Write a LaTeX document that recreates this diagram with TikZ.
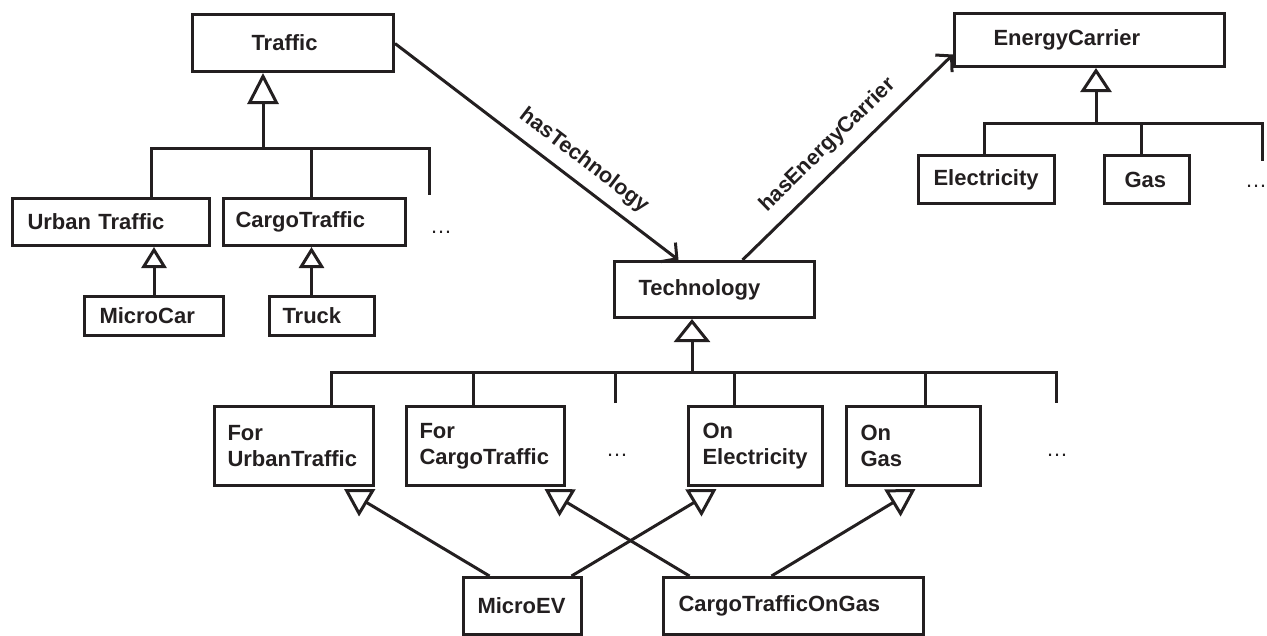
\documentclass[tikz,border=0pt]{standalone}
\usepackage{fontspec}
\setmainfont{Liberation Sans}
\usetikzlibrary{arrows.meta}
\definecolor{ink}{RGB}{35,31,32}
\hyphenpenalty=10000

\begin{document}
\begin{tikzpicture}[x=1pt,y=-1pt,
  line width=3pt, draw=ink,
  cls/.style n args={3}{draw=ink, line width=3pt, anchor=north west,
    inner ysep=0pt, inner xsep=#2, text width=#1, minimum height=#3,
    align=left, text=ink, font=\fontsize{22}{26}\selectfont\bfseries},
  more/.style={anchor=base, inner sep=0pt, text=ink,
    font=\fontsize{22}{26}\selectfont},
  link/.style={draw=ink, line width=3pt},
  isa/.style 2 args={link, -{Triangle[open, length=#1, width=#2]}},
  assoc/.style={link, -{Straight Barb[length=11pt, width=24pt]}},
  role/.style={sloped, above=#1, inner sep=0pt, text=ink,
    font=\fontsize{21.5}{26}\selectfont\bfseries}
]
\useasboundingbox (0,0) rectangle (1267,635);

% ---- traffic hierarchy ----
\node[cls={83pt}{59pt}{57pt}]  (traffic)  at (191,13)  {Traffic};
\node[cls={167pt}{15pt}{47pt}] (urban)    at (11,197)  {Urban Traffic};
\node[cls={158pt}{12pt}{47pt}] (cargo)    at (222,197) {CargoTraffic};
\node[cls={109pt}{15pt}{39pt}] (microcar) at (83,295)  {MicroCar};
\node[cls={79pt}{13pt}{39pt}]  (truck)    at (268,295) {Truck};
\node[more] (moretraffic) at (441,233) {…};

% ---- energy carriers ----
\node[cls={192pt}{39pt}{53pt}] (energy) at (953,12)   {EnergyCarrier};
\node[cls={106pt}{15pt}{48pt}] (elec)   at (917,154)  {Electricity};
\node[cls={45pt}{20pt}{48pt}]  (gas)    at (1103,154) {Gas};
\node[more] (moreenergy) at (1256,187) {…};

% ---- technologies ----
\node[cls={152pt}{24pt}{56pt}] (tech)     at (613,260) {Technology};
\node[cls={133pt}{13pt}{79pt}] (forurban) at (213,405) {For\\UrbanTraffic};
\node[cls={132pt}{13pt}{79pt}] (forcargo) at (405,405) {For\\CargoTraffic};
\node[cls={106pt}{14pt}{79pt}] (onelec)   at (687,405) {On\\Electricity};
\node[cls={106pt}{14pt}{79pt}] (ongas)    at (845,405) {On\\Gas};
\node[more] (moretechA) at (617,456) {…};
\node[more] (moretechB) at (1057,456) {…};
\node[cls={90pt}{14pt}{57pt}]  (microev)  at (462,576) {MicroEV};
\node[cls={230pt}{15pt}{57pt}] (ctog)     at (662,576) {CargoTrafficOnGas};

% ---- junction points of the subclass trees ----
\coordinate (tbus)  at (263,148);
\coordinate (tfree) at (429,195);
\coordinate (ebus)  at (1096,123);
\coordinate (efree) at (1262,161);
\coordinate (gbus)  at (692,372);
\coordinate (gfreeA) at (615,403);
\coordinate (gfreeB) at (1056,403);

% traffic subclasses
\draw[isa={31pt}{31pt}] (tbus) -- (tbus |- traffic.south);
\draw[link] ([xshift=40.5pt]urban.north) |- (tbus) -| (tfree);
\draw[link] ([xshift=-3pt]cargo.north) -- ([xshift=-3pt]cargo.north |- tbus);
\draw[isa={21pt}{25pt}] (microcar.north) -- (microcar.north |- urban.south);
\draw[isa={21pt}{25pt}] ([xshift=-10.5pt]truck.north) -- ([xshift=-10.5pt]truck.north |- cargo.south);

% energy carrier subclasses
\draw[isa={24pt}{31pt}] (ebus) -- (ebus |- energy.south);
\draw[link] ([xshift=-2pt]elec.north) |- (ebus) -| (efree);
\draw[link] ([xshift=-5.5pt]gas.north) -- ([xshift=-5.5pt]gas.north |- ebus);

% technology subclasses
\draw[isa={23pt}{36pt}] (gbus) -- (gbus |- tech.south);
\draw[link] ([xshift=37.5pt]forurban.north) |- (gbus) -| (gfreeB);
\draw[link] ([xshift=-12pt]forcargo.north) -- ([xshift=-12pt]forcargo.north |- gbus);
\draw[link] (gfreeA) -- (gfreeA |- gbus);
\draw[link] ([xshift=-21pt]onelec.north) -- ([xshift=-21pt]onelec.north |- gbus);
\draw[link] ([xshift=12pt]ongas.north) -- ([xshift=12pt]ongas.north |- gbus);

% combined technologies
\draw[isa={27pt}{31pt}] ([xshift=-33pt]microev.north) -- ([xshift=50pt,yshift=-2pt]forurban.south);
\draw[isa={27pt}{31pt}] ([xshift=49pt]microev.north) -- ([xshift=-39pt,yshift=-2pt]onelec.south);
\draw[isa={27pt}{31pt}] ([xshift=-104pt]ctog.north) -- ([xshift=59pt,yshift=-2pt]forcargo.south);
\draw[isa={27pt}{31pt}] ([xshift=-22pt]ctog.north) -- ([xshift=2pt,yshift=-2pt]ongas.south);

% object properties
\draw[assoc] ([yshift=-0.5pt]traffic.east) -- ([xshift=-36pt]tech.north)
  node[role=10pt, pos=0.62] {hasTechnology};
\draw[assoc] ([xshift=28pt]tech.north) -- ([yshift=-14.5pt]energy.west)
  node[role=11pt, pos=0.48] {hasEnergyCarrier};
\end{tikzpicture}
\end{document}
